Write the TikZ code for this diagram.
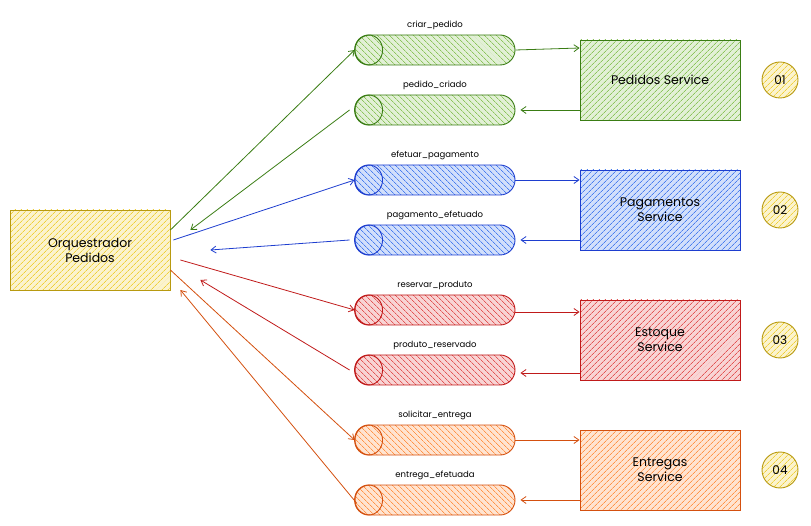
\documentclass[tikz,border=0pt]{standalone}
\usepackage{fontspec}
\setmainfont{Poppins}
\usetikzlibrary{shapes.misc,patterns.meta,arrows.meta}
\definecolor{gline}{HTML}{3A7D14}\definecolor{gfill}{HTML}{8CC45C}
\definecolor{bline}{HTML}{1E3ECF}\definecolor{bfill}{HTML}{4A7EEE}
\definecolor{rline}{HTML}{C01A1A}\definecolor{rfill}{HTML}{E25555}
\definecolor{oline}{HTML}{D4500F}\definecolor{ofill}{HTML}{FF9448}
\definecolor{yline}{HTML}{B89A10}\definecolor{yfill}{HTML}{EFD03A}
\tikzset{
  sbox/.style={draw=#1line, line width=0.9pt, preaction={fill=#1fill!25},
    pattern={Lines[angle=45,distance=4pt,line width=0.8pt]}, pattern color=#1fill,
    minimum width=160pt, minimum height=80pt, align=center, inner sep=2pt,
    font=\fontsize{12.5}{15}\selectfont},
  cyl/.style={rounded rectangle, draw=#1line, line width=0.9pt, preaction={fill=#1fill!25},
    pattern={Lines[angle=-45,distance=4pt,line width=0.8pt]}, pattern color=#1fill,
    minimum width=160pt, minimum height=30pt, inner sep=0pt},
  cylend/.style={draw=#1line, line width=0.9pt},
  lbl/.style={font=\fontsize{8.5}{10}\selectfont, anchor=south, inner sep=0pt},
  num/.style={circle, draw=yline, line width=0.9pt, preaction={fill=yfill!25},
    pattern={Lines[angle=45,distance=4pt,line width=0.8pt]}, pattern color=yfill,
    minimum size=36pt, inner sep=0pt, font=\fontsize{12}{14}\selectfont},
  conn/.style={draw=#1line, line width=0.8pt, -{Straight Barb[length=5pt,width=7pt]}},
}
\newcommand\mycyl[4]{%
  \node[cyl=#1] (#2) at (#3) {};
  \draw[cylend=#1] ([xshift=14pt]#2.west) ellipse[x radius=14pt,y radius=15pt];
  \node[lbl] (#2l) at ([yshift=5pt]#2.north) {#4};
}
\begin{document}
\begin{tikzpicture}[x=1pt,y=-1pt]
\useasboundingbox (0,0) rectangle (811,526);
\node[sbox=y] (o) at (90,250) {Orquestrador\\Pedidos};

\mycyl{g}{c1}{435,50}{criar\_pedido}
\mycyl{g}{c2}{435,110}{pedido\_criado}
\mycyl{b}{c3}{435,180}{efetuar\_pagamento}
\mycyl{b}{c4}{435,240}{pagamento\_efetuado}
\mycyl{r}{c5}{435,310}{reservar\_produto}
\mycyl{r}{c6}{435,370}{produto\_reservado}
\mycyl{o}{c7}{435,440}{solicitar\_entrega}
\mycyl{o}{c8}{435,500}{entrega\_efetuada}

\node[sbox=g] (s1) at (660,80) {Pedidos Service};
\node[sbox=b] (s2) at (660,210) {Pagamentos\\Service};
\node[sbox=r] (s3) at (660,340) {Estoque\\Service};
\node[sbox=o] (s4) at (660,470) {Entregas\\Service};

\node[num] (n1) at (780,80) {01};
\node[num] (n2) at (780,210) {02};
\node[num] (n3) at (780,340) {03};
\node[num] (n4) at (780,470) {04};

% orchestrator -> cylinders
\draw[conn=g] ([yshift=20pt]o.east) -- (c1.west);
\draw[conn=b] ([xshift=3pt,yshift=10pt]o.east) -- (c3.west);
\draw[conn=r] ([xshift=10pt,yshift=-10pt]o.east) -- (c5.west);
\draw[conn=o] ([yshift=-20pt]o.east) -- (c7.west);
% cylinders -> orchestrator
\draw[conn=g] ([xshift=-5pt]c2.west) -- ([xshift=20pt,yshift=20pt]o.east);
\draw[conn=b] ([xshift=-5pt]c4.west) -- ([xshift=40pt]o.east);
\draw[conn=r] ([xshift=-5pt]c6.west) -- ([xshift=30pt,yshift=-30pt]o.east);
\draw[conn=o] ([xshift=2pt,yshift=-3pt]c8.west) -- ([xshift=10pt,yshift=-40pt]o.east);
% cylinders -> services
\draw[conn=g] (c1.east) -- ([yshift=32pt]s1.west);
\draw[conn=b] (c3.east) -- ([yshift=30pt]s2.west);
\draw[conn=r] ([yshift=-2pt]c5.east) -- ([yshift=28pt]s3.west);
\draw[conn=o] (c7.east) -- ([yshift=30pt]s4.west);
% services -> cylinders
\draw[conn=g] ([yshift=-30pt]s1.west) -- ([xshift=5pt]c2.east);
\draw[conn=b] ([yshift=-30pt]s2.west) -- ([xshift=5pt]c4.east);
\draw[conn=r] ([yshift=-33pt]s3.west) -- ([xshift=5pt,yshift=-3pt]c6.east);
\draw[conn=o] ([yshift=-30pt]s4.west) -- ([xshift=5pt]c8.east);
\end{tikzpicture}
\end{document}
